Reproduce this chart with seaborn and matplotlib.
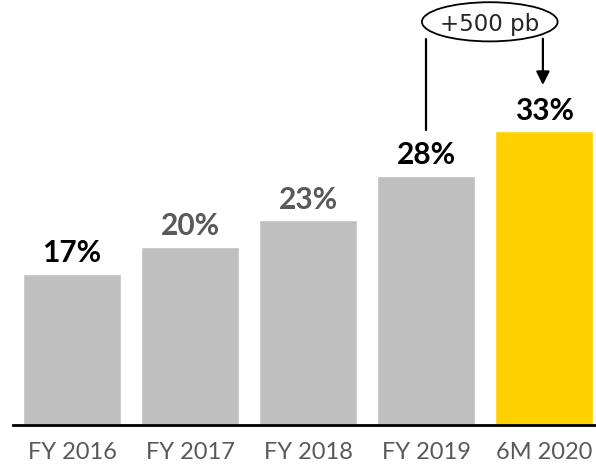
import matplotlib
matplotlib.use("Agg")
import matplotlib.pyplot as plt
from matplotlib.patches import Ellipse
import seaborn as sns

# data
categories = ["FY 2016", "FY 2017", "FY 2018", "FY 2019", "6M 2020"]
values = [17, 20, 23, 28, 33]
labels = ["17%", "20%", "23%", "28%", "33%"]
bar_colors = ["#BFBFBF", "#BFBFBF", "#BFBFBF", "#BFBFBF", "#FFD100"]
label_colors = ["#000000", "#595959", "#595959", "#000000", "#000000"]
delta_text = "+500 pb"

sns.set_style("white")
plt.rcParams["font.family"] = ["Lato", "DejaVu Sans"]

fig = plt.figure(figsize=(5.96, 4.66), dpi=100)
ax = fig.add_axes([13 / 596, 41 / 466, 583 / 596, 425 / 466])

sns.barplot(x=categories, y=values, hue=categories, palette=bar_colors,
            legend=False, width=0.83, saturation=1, ax=ax)

# value labels above each bar
for i, (v, lab, col) in enumerate(zip(values, labels, label_colors)):
    ax.text(i, v + 1.3, lab, ha="center", va="baseline", fontsize=21.5,
            fontweight="bold", color=col)

ax.set_xlim(-0.5, 4.44)
ax.set_ylim(0, 47.75)
ax.set_yticks([])
ax.set_xlabel("")
ax.set_ylabel("")
for s in ["top", "right", "left"]:
    ax.spines[s].set_visible(False)
ax.spines["bottom"].set_linewidth(2)
ax.spines["bottom"].set_color("black")
ax.tick_params(axis="x", length=0, pad=12, labelsize=17, labelcolor="#595959")

# +500 pb bracket between FY 2019 and 6M 2020
ax.plot([3, 3], [values[3] + 5.1, 43.4], color="black", lw=1.6,
        clip_on=False)
ax.annotate("", xy=(3.99, values[4] + 5.2), xytext=(3.99, 43.4),
            arrowprops=dict(arrowstyle="-|>", color="black", lw=1.6,
                            mutation_scale=20, shrinkA=0, shrinkB=0),
            annotation_clip=False)
ell = Ellipse((3.54, 45.3), 1.15, 4.4, facecolor="white",
              edgecolor="black", lw=1.3, clip_on=False, zorder=5)
ax.add_patch(ell)
ax.text(3.54, 45.0, delta_text, ha="center", va="center", fontsize=16.5,
        family=["DejaVu Sans"], zorder=6)

fig.savefig("out.png", dpi=100)
